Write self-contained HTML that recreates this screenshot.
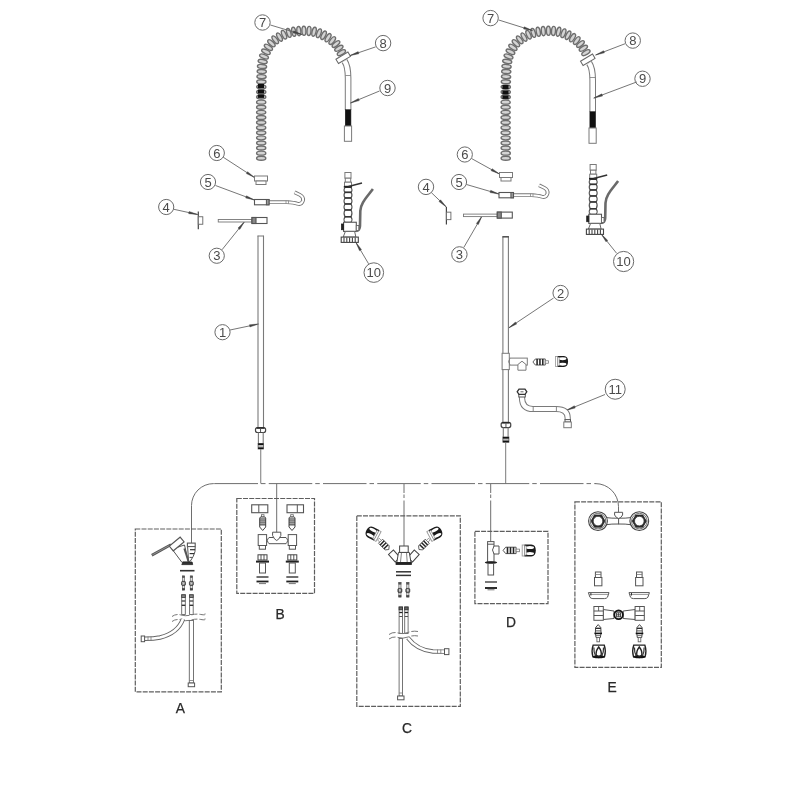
<!DOCTYPE html>
<html><head><meta charset="utf-8"><style>
html,body{margin:0;padding:0;background:#fff;}
svg{display:block;filter:grayscale(1);}
text{font-family:"Liberation Sans",sans-serif;}
</style></head><body>
<svg width="800" height="800" viewBox="0 0 800 800">
<rect width="800" height="800" fill="#fff"/>
<ellipse cx="341.42" cy="52.69" rx="2.0" ry="4.6" transform="rotate(-120.24 341.42 52.69)" stroke="#6e6e6e" stroke-width="1.4" fill="#d4d4d4"/>
<ellipse cx="338.85" cy="48.29" rx="2.0" ry="4.6" transform="rotate(-120.41 338.85 48.29)" stroke="#6e6e6e" stroke-width="1.4" fill="#d4d4d4"/>
<ellipse cx="335.98" cy="44.08" rx="2.0" ry="4.6" transform="rotate(-129.81 335.98 44.08)" stroke="#6e6e6e" stroke-width="1.4" fill="#d4d4d4"/>
<ellipse cx="332.26" cy="40.6" rx="2.0" ry="4.6" transform="rotate(-142.34 332.26 40.6)" stroke="#6e6e6e" stroke-width="1.4" fill="#d4d4d4"/>
<ellipse cx="328.06" cy="37.72" rx="2.0" ry="4.6" transform="rotate(-148.82 328.06 37.72)" stroke="#6e6e6e" stroke-width="1.4" fill="#d4d4d4"/>
<ellipse cx="323.58" cy="35.28" rx="2.0" ry="4.6" transform="rotate(-153.78 323.58 35.28)" stroke="#6e6e6e" stroke-width="1.4" fill="#d4d4d4"/>
<ellipse cx="318.91" cy="33.24" rx="2.0" ry="4.6" transform="rotate(-159.26 318.91 33.24)" stroke="#6e6e6e" stroke-width="1.4" fill="#d4d4d4"/>
<ellipse cx="314.04" cy="31.73" rx="2.0" ry="4.6" transform="rotate(-166.93 314.04 31.73)" stroke="#6e6e6e" stroke-width="1.4" fill="#d4d4d4"/>
<ellipse cx="309.01" cy="30.95" rx="2.0" ry="4.6" transform="rotate(-175.45 309.01 30.95)" stroke="#6e6e6e" stroke-width="1.4" fill="#d4d4d4"/>
<ellipse cx="303.91" cy="30.8" rx="2.0" ry="4.6" transform="rotate(178.54 303.91 30.8)" stroke="#6e6e6e" stroke-width="1.4" fill="#d4d4d4"/>
<ellipse cx="298.82" cy="31.1" rx="2.0" ry="4.6" transform="rotate(174.93 298.82 31.1)" stroke="#6e6e6e" stroke-width="1.4" fill="#d4d4d4"/>
<ellipse cx="293.77" cy="31.76" rx="2.0" ry="4.6" transform="rotate(170.12 293.77 31.76)" stroke="#6e6e6e" stroke-width="1.4" fill="#d4d4d4"/>
<ellipse cx="288.8" cy="32.91" rx="2.0" ry="4.6" transform="rotate(162.97 288.8 32.91)" stroke="#6e6e6e" stroke-width="1.4" fill="#d4d4d4"/>
<ellipse cx="284.03" cy="34.71" rx="2.0" ry="4.6" transform="rotate(155.84 284.03 34.71)" stroke="#6e6e6e" stroke-width="1.4" fill="#d4d4d4"/>
<ellipse cx="279.5" cy="37.04" rx="2.0" ry="4.6" transform="rotate(150.25 279.5 37.04)" stroke="#6e6e6e" stroke-width="1.4" fill="#d4d4d4"/>
<ellipse cx="275.23" cy="39.83" rx="2.0" ry="4.6" transform="rotate(143.2 275.23 39.83)" stroke="#6e6e6e" stroke-width="1.4" fill="#d4d4d4"/>
<ellipse cx="271.44" cy="43.23" rx="2.0" ry="4.6" transform="rotate(132.66 271.44 43.23)" stroke="#6e6e6e" stroke-width="1.4" fill="#d4d4d4"/>
<ellipse cx="268.41" cy="47.32" rx="2.0" ry="4.6" transform="rotate(121.97 268.41 47.32)" stroke="#6e6e6e" stroke-width="1.4" fill="#d4d4d4"/>
<ellipse cx="265.96" cy="51.79" rx="2.0" ry="4.6" transform="rotate(115.29 265.96 51.79)" stroke="#6e6e6e" stroke-width="1.4" fill="#d4d4d4"/>
<ellipse cx="264.02" cy="56.5" rx="2.0" ry="4.6" transform="rotate(109.11 264.02 56.5)" stroke="#6e6e6e" stroke-width="1.4" fill="#d4d4d4"/>
<ellipse cx="262.69" cy="61.42" rx="2.0" ry="4.6" transform="rotate(100.7 262.69 61.42)" stroke="#6e6e6e" stroke-width="1.4" fill="#d4d4d4"/>
<ellipse cx="262.03" cy="66.48" rx="2.0" ry="4.6" transform="rotate(94.65 262.03 66.48)" stroke="#6e6e6e" stroke-width="1.4" fill="#d4d4d4"/>
<ellipse cx="261.75" cy="71.57" rx="2.0" ry="4.6" transform="rotate(92.44 261.75 71.57)" stroke="#6e6e6e" stroke-width="1.4" fill="#d4d4d4"/>
<ellipse cx="261.53" cy="76.66" rx="2.0" ry="4.6" transform="rotate(92.36 261.53 76.66)" stroke="#6e6e6e" stroke-width="1.4" fill="#d4d4d4"/>
<ellipse cx="261.37" cy="81.76" rx="2.0" ry="4.6" transform="rotate(91.24 261.37 81.76)" stroke="#6e6e6e" stroke-width="1.4" fill="#d4d4d4"/>
<ellipse cx="261.28" cy="86.86" rx="2.0" ry="4.6" transform="rotate(90.67 261.28 86.86)" stroke="#6e6e6e" stroke-width="1.4" fill="#d4d4d4"/>
<ellipse cx="261.24" cy="91.96" rx="2.0" ry="4.6" transform="rotate(90.37 261.24 91.96)" stroke="#6e6e6e" stroke-width="1.4" fill="#d4d4d4"/>
<ellipse cx="261.21" cy="97.06" rx="2.0" ry="4.6" transform="rotate(90.29 261.21 97.06)" stroke="#6e6e6e" stroke-width="1.4" fill="#d4d4d4"/>
<ellipse cx="261.19" cy="102.16" rx="2.0" ry="4.6" transform="rotate(90.23 261.19 102.16)" stroke="#6e6e6e" stroke-width="1.4" fill="#d4d4d4"/>
<ellipse cx="261.18" cy="107.26" rx="2.0" ry="4.6" transform="rotate(90.11 261.18 107.26)" stroke="#6e6e6e" stroke-width="1.4" fill="#d4d4d4"/>
<ellipse cx="261.17" cy="112.36" rx="2.0" ry="4.6" transform="rotate(90.04 261.17 112.36)" stroke="#6e6e6e" stroke-width="1.4" fill="#d4d4d4"/>
<ellipse cx="261.17" cy="117.46" rx="2.0" ry="4.6" transform="rotate(90 261.17 117.46)" stroke="#6e6e6e" stroke-width="1.4" fill="#d4d4d4"/>
<ellipse cx="261.17" cy="122.56" rx="2.0" ry="4.6" transform="rotate(89.99 261.17 122.56)" stroke="#6e6e6e" stroke-width="1.4" fill="#d4d4d4"/>
<ellipse cx="261.17" cy="127.66" rx="2.0" ry="4.6" transform="rotate(89.97 261.17 127.66)" stroke="#6e6e6e" stroke-width="1.4" fill="#d4d4d4"/>
<ellipse cx="261.18" cy="132.76" rx="2.0" ry="4.6" transform="rotate(89.96 261.18 132.76)" stroke="#6e6e6e" stroke-width="1.4" fill="#d4d4d4"/>
<ellipse cx="261.18" cy="137.86" rx="2.0" ry="4.6" transform="rotate(89.95 261.18 137.86)" stroke="#6e6e6e" stroke-width="1.4" fill="#d4d4d4"/>
<ellipse cx="261.19" cy="142.96" rx="2.0" ry="4.6" transform="rotate(89.94 261.19 142.96)" stroke="#6e6e6e" stroke-width="1.4" fill="#d4d4d4"/>
<ellipse cx="261.19" cy="148.06" rx="2.0" ry="4.6" transform="rotate(89.94 261.19 148.06)" stroke="#6e6e6e" stroke-width="1.4" fill="#d4d4d4"/>
<ellipse cx="261.2" cy="153.16" rx="2.0" ry="4.6" transform="rotate(89.94 261.2 153.16)" stroke="#6e6e6e" stroke-width="1.4" fill="#d4d4d4"/>
<ellipse cx="261.2" cy="158.26" rx="2.0" ry="4.6" transform="rotate(89.96 261.2 158.26)" stroke="#6e6e6e" stroke-width="1.4" fill="#d4d4d4"/>
<rect x="257.9" y="84" width="6.2" height="4.1" fill="#111"/>
<rect x="257.9" y="89.6" width="6.2" height="3.8" fill="#111"/>
<rect x="257.9" y="94.5" width="6.2" height="3.4" fill="#111"/>
<ellipse cx="585.92" cy="52.69" rx="2.0" ry="4.6" transform="rotate(-120.24 585.92 52.69)" stroke="#6e6e6e" stroke-width="1.4" fill="#d4d4d4"/>
<ellipse cx="583.35" cy="48.29" rx="2.0" ry="4.6" transform="rotate(-120.41 583.35 48.29)" stroke="#6e6e6e" stroke-width="1.4" fill="#d4d4d4"/>
<ellipse cx="580.48" cy="44.08" rx="2.0" ry="4.6" transform="rotate(-129.81 580.48 44.08)" stroke="#6e6e6e" stroke-width="1.4" fill="#d4d4d4"/>
<ellipse cx="576.76" cy="40.6" rx="2.0" ry="4.6" transform="rotate(-142.34 576.76 40.6)" stroke="#6e6e6e" stroke-width="1.4" fill="#d4d4d4"/>
<ellipse cx="572.56" cy="37.72" rx="2.0" ry="4.6" transform="rotate(-148.82 572.56 37.72)" stroke="#6e6e6e" stroke-width="1.4" fill="#d4d4d4"/>
<ellipse cx="568.08" cy="35.28" rx="2.0" ry="4.6" transform="rotate(-153.78 568.08 35.28)" stroke="#6e6e6e" stroke-width="1.4" fill="#d4d4d4"/>
<ellipse cx="563.41" cy="33.24" rx="2.0" ry="4.6" transform="rotate(-159.26 563.41 33.24)" stroke="#6e6e6e" stroke-width="1.4" fill="#d4d4d4"/>
<ellipse cx="558.54" cy="31.73" rx="2.0" ry="4.6" transform="rotate(-166.93 558.54 31.73)" stroke="#6e6e6e" stroke-width="1.4" fill="#d4d4d4"/>
<ellipse cx="553.51" cy="30.95" rx="2.0" ry="4.6" transform="rotate(-175.45 553.51 30.95)" stroke="#6e6e6e" stroke-width="1.4" fill="#d4d4d4"/>
<ellipse cx="548.41" cy="30.8" rx="2.0" ry="4.6" transform="rotate(178.54 548.41 30.8)" stroke="#6e6e6e" stroke-width="1.4" fill="#d4d4d4"/>
<ellipse cx="543.32" cy="31.1" rx="2.0" ry="4.6" transform="rotate(174.93 543.32 31.1)" stroke="#6e6e6e" stroke-width="1.4" fill="#d4d4d4"/>
<ellipse cx="538.27" cy="31.76" rx="2.0" ry="4.6" transform="rotate(170.12 538.27 31.76)" stroke="#6e6e6e" stroke-width="1.4" fill="#d4d4d4"/>
<ellipse cx="533.3" cy="32.91" rx="2.0" ry="4.6" transform="rotate(162.97 533.3 32.91)" stroke="#6e6e6e" stroke-width="1.4" fill="#d4d4d4"/>
<ellipse cx="528.53" cy="34.71" rx="2.0" ry="4.6" transform="rotate(155.84 528.53 34.71)" stroke="#6e6e6e" stroke-width="1.4" fill="#d4d4d4"/>
<ellipse cx="524" cy="37.04" rx="2.0" ry="4.6" transform="rotate(150.25 524 37.04)" stroke="#6e6e6e" stroke-width="1.4" fill="#d4d4d4"/>
<ellipse cx="519.73" cy="39.83" rx="2.0" ry="4.6" transform="rotate(143.2 519.73 39.83)" stroke="#6e6e6e" stroke-width="1.4" fill="#d4d4d4"/>
<ellipse cx="515.94" cy="43.23" rx="2.0" ry="4.6" transform="rotate(132.66 515.94 43.23)" stroke="#6e6e6e" stroke-width="1.4" fill="#d4d4d4"/>
<ellipse cx="512.91" cy="47.32" rx="2.0" ry="4.6" transform="rotate(121.97 512.91 47.32)" stroke="#6e6e6e" stroke-width="1.4" fill="#d4d4d4"/>
<ellipse cx="510.46" cy="51.79" rx="2.0" ry="4.6" transform="rotate(115.29 510.46 51.79)" stroke="#6e6e6e" stroke-width="1.4" fill="#d4d4d4"/>
<ellipse cx="508.52" cy="56.5" rx="2.0" ry="4.6" transform="rotate(109.11 508.52 56.5)" stroke="#6e6e6e" stroke-width="1.4" fill="#d4d4d4"/>
<ellipse cx="507.19" cy="61.42" rx="2.0" ry="4.6" transform="rotate(100.7 507.19 61.42)" stroke="#6e6e6e" stroke-width="1.4" fill="#d4d4d4"/>
<ellipse cx="506.53" cy="66.48" rx="2.0" ry="4.6" transform="rotate(94.65 506.53 66.48)" stroke="#6e6e6e" stroke-width="1.4" fill="#d4d4d4"/>
<ellipse cx="506.25" cy="71.57" rx="2.0" ry="4.6" transform="rotate(92.44 506.25 71.57)" stroke="#6e6e6e" stroke-width="1.4" fill="#d4d4d4"/>
<ellipse cx="506.03" cy="76.66" rx="2.0" ry="4.6" transform="rotate(92.36 506.03 76.66)" stroke="#6e6e6e" stroke-width="1.4" fill="#d4d4d4"/>
<ellipse cx="505.87" cy="81.76" rx="2.0" ry="4.6" transform="rotate(91.24 505.87 81.76)" stroke="#6e6e6e" stroke-width="1.4" fill="#d4d4d4"/>
<ellipse cx="505.78" cy="86.86" rx="2.0" ry="4.6" transform="rotate(90.67 505.78 86.86)" stroke="#6e6e6e" stroke-width="1.4" fill="#d4d4d4"/>
<ellipse cx="505.74" cy="91.96" rx="2.0" ry="4.6" transform="rotate(90.37 505.74 91.96)" stroke="#6e6e6e" stroke-width="1.4" fill="#d4d4d4"/>
<ellipse cx="505.71" cy="97.06" rx="2.0" ry="4.6" transform="rotate(90.29 505.71 97.06)" stroke="#6e6e6e" stroke-width="1.4" fill="#d4d4d4"/>
<ellipse cx="505.69" cy="102.16" rx="2.0" ry="4.6" transform="rotate(90.23 505.69 102.16)" stroke="#6e6e6e" stroke-width="1.4" fill="#d4d4d4"/>
<ellipse cx="505.68" cy="107.26" rx="2.0" ry="4.6" transform="rotate(90.11 505.68 107.26)" stroke="#6e6e6e" stroke-width="1.4" fill="#d4d4d4"/>
<ellipse cx="505.67" cy="112.36" rx="2.0" ry="4.6" transform="rotate(90.04 505.67 112.36)" stroke="#6e6e6e" stroke-width="1.4" fill="#d4d4d4"/>
<ellipse cx="505.67" cy="117.46" rx="2.0" ry="4.6" transform="rotate(90 505.67 117.46)" stroke="#6e6e6e" stroke-width="1.4" fill="#d4d4d4"/>
<ellipse cx="505.67" cy="122.56" rx="2.0" ry="4.6" transform="rotate(89.99 505.67 122.56)" stroke="#6e6e6e" stroke-width="1.4" fill="#d4d4d4"/>
<ellipse cx="505.67" cy="127.66" rx="2.0" ry="4.6" transform="rotate(89.97 505.67 127.66)" stroke="#6e6e6e" stroke-width="1.4" fill="#d4d4d4"/>
<ellipse cx="505.68" cy="132.76" rx="2.0" ry="4.6" transform="rotate(89.96 505.68 132.76)" stroke="#6e6e6e" stroke-width="1.4" fill="#d4d4d4"/>
<ellipse cx="505.68" cy="137.86" rx="2.0" ry="4.6" transform="rotate(89.95 505.68 137.86)" stroke="#6e6e6e" stroke-width="1.4" fill="#d4d4d4"/>
<ellipse cx="505.69" cy="142.96" rx="2.0" ry="4.6" transform="rotate(89.94 505.69 142.96)" stroke="#6e6e6e" stroke-width="1.4" fill="#d4d4d4"/>
<ellipse cx="505.69" cy="148.06" rx="2.0" ry="4.6" transform="rotate(89.94 505.69 148.06)" stroke="#6e6e6e" stroke-width="1.4" fill="#d4d4d4"/>
<ellipse cx="505.7" cy="153.16" rx="2.0" ry="4.6" transform="rotate(89.94 505.7 153.16)" stroke="#6e6e6e" stroke-width="1.4" fill="#d4d4d4"/>
<ellipse cx="505.7" cy="158.26" rx="2.0" ry="4.6" transform="rotate(89.96 505.7 158.26)" stroke="#6e6e6e" stroke-width="1.4" fill="#d4d4d4"/>
<rect x="502.4" y="85" width="6.2" height="4.1" fill="#111"/>
<rect x="502.4" y="90.6" width="6.2" height="3.8" fill="#111"/>
<rect x="502.4" y="95.5" width="6.2" height="3.4" fill="#111"/>
<path d="M344.5 61 Q348 66 348.1 78 L348.1 110" stroke="#7a7a7a" stroke-width="6.6" fill="none" stroke-linecap="butt"/>
<path d="M344.5 61 Q348 66 348.1 78 L348.1 110" stroke="#fff" stroke-width="4.6" fill="none" stroke-linecap="butt"/>
<line x1="345.3" y1="75.5" x2="350.9" y2="75.5" stroke="#7a7a7a" stroke-width="0.8" />
<rect x="345.3" y="109.75" width="5.6" height="16.15" stroke="#111" stroke-width="0.6" fill="#111" />
<rect x="344.4" y="126" width="7.2" height="15.3" stroke="#7a7a7a" stroke-width="1" fill="#fff" />
<rect x="-7" y="-2.5" width="14" height="5" transform="translate(343.2 57.8) rotate(-31)" stroke="#666" stroke-width="1" fill="#fff"/>
<path d="M589.1 63 Q592.6 68 592.7 80 L592.7 112" stroke="#7a7a7a" stroke-width="6.6" fill="none" stroke-linecap="butt"/>
<path d="M589.1 63 Q592.6 68 592.7 80 L592.7 112" stroke="#fff" stroke-width="4.6" fill="none" stroke-linecap="butt"/>
<line x1="589.9" y1="77.5" x2="595.5" y2="77.5" stroke="#7a7a7a" stroke-width="0.8" />
<rect x="589.9" y="111.75" width="5.6" height="16.15" stroke="#111" stroke-width="0.6" fill="#111" />
<rect x="589" y="128" width="7.2" height="15.3" stroke="#7a7a7a" stroke-width="1" fill="#fff" />
<rect x="-7" y="-2.5" width="14" height="5" transform="translate(587.8 59.8) rotate(-31)" stroke="#666" stroke-width="1" fill="#fff"/>
<circle cx="262.5" cy="22.5" r="7.7" stroke="#6a6a6a" stroke-width="1" fill="none"/>
<text x="262.5" y="27.18" font-size="13" text-anchor="middle" fill="#4a4a4a" font-family="Liberation Sans, sans-serif">7</text>
<line x1="270.4" y1="25" x2="302" y2="34.5" stroke="#666" stroke-width="0.9" />
<path d="M302 34.5 L293.05 33.01 L293.71 30.81 Z" fill="#444" stroke="#444" stroke-width="0.4"/>
<circle cx="383.1" cy="43.1" r="7.7" stroke="#6a6a6a" stroke-width="1" fill="none"/>
<text x="383.1" y="47.78" font-size="13" text-anchor="middle" fill="#4a4a4a" font-family="Liberation Sans, sans-serif">8</text>
<line x1="375.6" y1="46.9" x2="350" y2="55.6" stroke="#666" stroke-width="0.9" />
<path d="M350 55.6 L358.15 51.62 L358.89 53.79 Z" fill="#444" stroke="#444" stroke-width="0.4"/>
<circle cx="387.5" cy="88" r="7.7" stroke="#6a6a6a" stroke-width="1" fill="none"/>
<text x="387.5" y="92.68" font-size="13" text-anchor="middle" fill="#4a4a4a" font-family="Liberation Sans, sans-serif">9</text>
<line x1="379.5" y1="91" x2="350.5" y2="103" stroke="#666" stroke-width="0.9" />
<path d="M350.5 103 L358.38 98.5 L359.26 100.62 Z" fill="#444" stroke="#444" stroke-width="0.4"/>
<circle cx="216.8" cy="153" r="7.6" stroke="#6a6a6a" stroke-width="1" fill="none"/>
<text x="216.8" y="157.68" font-size="13" text-anchor="middle" fill="#4a4a4a" font-family="Liberation Sans, sans-serif">6</text>
<line x1="223.2" y1="157.2" x2="254.5" y2="177.5" stroke="#666" stroke-width="0.9" />
<path d="M254.5 177.5 L246.32 173.57 L247.57 171.64 Z" fill="#444" stroke="#444" stroke-width="0.4"/>
<circle cx="208" cy="182" r="7.6" stroke="#6a6a6a" stroke-width="1" fill="none"/>
<text x="208" y="186.68" font-size="13" text-anchor="middle" fill="#4a4a4a" font-family="Liberation Sans, sans-serif">5</text>
<line x1="215.5" y1="185.5" x2="254.5" y2="200" stroke="#666" stroke-width="0.9" />
<path d="M254.5 200 L245.66 197.94 L246.46 195.79 Z" fill="#444" stroke="#444" stroke-width="0.4"/>
<circle cx="166.2" cy="207" r="7.6" stroke="#6a6a6a" stroke-width="1" fill="none"/>
<text x="166.2" y="211.68" font-size="13" text-anchor="middle" fill="#4a4a4a" font-family="Liberation Sans, sans-serif">4</text>
<line x1="173.7" y1="209.25" x2="197.7" y2="214.5" stroke="#666" stroke-width="0.9" />
<path d="M197.7 214.5 L188.66 213.7 L189.15 211.45 Z" fill="#444" stroke="#444" stroke-width="0.4"/>
<circle cx="216.75" cy="255.75" r="7.6" stroke="#6a6a6a" stroke-width="1" fill="none"/>
<text x="216.75" y="260.43" font-size="13" text-anchor="middle" fill="#4a4a4a" font-family="Liberation Sans, sans-serif">3</text>
<line x1="222" y1="249.75" x2="244.5" y2="221.7" stroke="#666" stroke-width="0.9" />
<path d="M244.5 221.7 L239.77 229.44 L237.97 228 Z" fill="#444" stroke="#444" stroke-width="0.4"/>
<circle cx="373.8" cy="272.6" r="9.8" stroke="#6a6a6a" stroke-width="1" fill="none"/>
<text x="373.8" y="277.28" font-size="13" text-anchor="middle" fill="#4a4a4a" font-family="Liberation Sans, sans-serif">10</text>
<line x1="368.6" y1="263.8" x2="355.9" y2="242.4" stroke="#666" stroke-width="0.9" />
<path d="M355.9 242.4 L361.48 249.55 L359.5 250.73 Z" fill="#444" stroke="#444" stroke-width="0.4"/>
<circle cx="222.5" cy="332.2" r="7.6" stroke="#6a6a6a" stroke-width="1" fill="none"/>
<text x="222.5" y="336.88" font-size="13" text-anchor="middle" fill="#4a4a4a" font-family="Liberation Sans, sans-serif">1</text>
<line x1="230" y1="330" x2="258.5" y2="324" stroke="#666" stroke-width="0.9" />
<path d="M258.5 324 L249.93 326.98 L249.46 324.73 Z" fill="#444" stroke="#444" stroke-width="0.4"/>
<circle cx="490.6" cy="18.1" r="7.7" stroke="#6a6a6a" stroke-width="1" fill="none"/>
<text x="490.6" y="22.78" font-size="13" text-anchor="middle" fill="#4a4a4a" font-family="Liberation Sans, sans-serif">7</text>
<line x1="498.75" y1="20" x2="532.5" y2="30.6" stroke="#666" stroke-width="0.9" />
<path d="M532.5 30.6 L523.57 29 L524.26 26.81 Z" fill="#444" stroke="#444" stroke-width="0.4"/>
<circle cx="632.75" cy="40.6" r="7.7" stroke="#6a6a6a" stroke-width="1" fill="none"/>
<text x="632.75" y="45.28" font-size="13" text-anchor="middle" fill="#4a4a4a" font-family="Liberation Sans, sans-serif">8</text>
<line x1="625" y1="43.75" x2="595.6" y2="55" stroke="#666" stroke-width="0.9" />
<path d="M595.6 55 L603.59 50.71 L604.42 52.86 Z" fill="#444" stroke="#444" stroke-width="0.4"/>
<circle cx="642.5" cy="78.75" r="7.7" stroke="#6a6a6a" stroke-width="1" fill="none"/>
<text x="642.5" y="83.43" font-size="13" text-anchor="middle" fill="#4a4a4a" font-family="Liberation Sans, sans-serif">9</text>
<line x1="636.9" y1="81.9" x2="593.75" y2="98.1" stroke="#666" stroke-width="0.9" />
<path d="M593.75 98.1 L601.77 93.86 L602.58 96.01 Z" fill="#444" stroke="#444" stroke-width="0.4"/>
<circle cx="464.8" cy="154.5" r="7.6" stroke="#6a6a6a" stroke-width="1" fill="none"/>
<text x="464.8" y="159.18" font-size="13" text-anchor="middle" fill="#4a4a4a" font-family="Liberation Sans, sans-serif">6</text>
<line x1="471.5" y1="158.5" x2="499.5" y2="174" stroke="#666" stroke-width="0.9" />
<path d="M499.5 174 L491.07 170.65 L492.18 168.64 Z" fill="#444" stroke="#444" stroke-width="0.4"/>
<circle cx="459" cy="182" r="7.6" stroke="#6a6a6a" stroke-width="1" fill="none"/>
<text x="459" y="186.68" font-size="13" text-anchor="middle" fill="#4a4a4a" font-family="Liberation Sans, sans-serif">5</text>
<line x1="466.5" y1="184.5" x2="499" y2="194" stroke="#666" stroke-width="0.9" />
<path d="M499 194 L490.04 192.58 L490.68 190.37 Z" fill="#444" stroke="#444" stroke-width="0.4"/>
<circle cx="426" cy="186.9" r="7.7" stroke="#6a6a6a" stroke-width="1" fill="none"/>
<text x="426" y="191.58" font-size="13" text-anchor="middle" fill="#4a4a4a" font-family="Liberation Sans, sans-serif">4</text>
<line x1="431.25" y1="192.5" x2="446.25" y2="206.9" stroke="#666" stroke-width="0.9" />
<path d="M446.25 206.9 L438.96 201.5 L440.55 199.84 Z" fill="#444" stroke="#444" stroke-width="0.4"/>
<circle cx="459.4" cy="254.4" r="7.7" stroke="#6a6a6a" stroke-width="1" fill="none"/>
<text x="459.4" y="259.08" font-size="13" text-anchor="middle" fill="#4a4a4a" font-family="Liberation Sans, sans-serif">3</text>
<line x1="463.75" y1="247.5" x2="481.9" y2="216.25" stroke="#666" stroke-width="0.9" />
<path d="M481.9 216.25 L478.37 224.61 L476.39 223.46 Z" fill="#444" stroke="#444" stroke-width="0.4"/>
<circle cx="623.6" cy="261.5" r="10.1" stroke="#6a6a6a" stroke-width="1" fill="none"/>
<text x="623.6" y="266.18" font-size="13" text-anchor="middle" fill="#4a4a4a" font-family="Liberation Sans, sans-serif">10</text>
<line x1="616.6" y1="253.25" x2="601.25" y2="234.1" stroke="#666" stroke-width="0.9" />
<path d="M601.25 234.1 L607.78 240.4 L605.98 241.84 Z" fill="#444" stroke="#444" stroke-width="0.4"/>
<circle cx="560.6" cy="293" r="7.65" stroke="#6a6a6a" stroke-width="1" fill="none"/>
<text x="560.6" y="297.68" font-size="13" text-anchor="middle" fill="#4a4a4a" font-family="Liberation Sans, sans-serif">2</text>
<line x1="553.6" y1="298" x2="508.6" y2="328" stroke="#666" stroke-width="0.9" />
<path d="M508.6 328 L515.45 322.05 L516.73 323.96 Z" fill="#444" stroke="#444" stroke-width="0.4"/>
<circle cx="615.2" cy="389.25" r="10" stroke="#6a6a6a" stroke-width="1" fill="none"/>
<text x="615.2" y="393.93" font-size="13" text-anchor="middle" fill="#4a4a4a" font-family="Liberation Sans, sans-serif">11</text>
<line x1="605" y1="394.5" x2="566.5" y2="410.25" stroke="#666" stroke-width="0.9" />
<path d="M566.5 410.25 L574.39 405.78 L575.27 407.91 Z" fill="#444" stroke="#444" stroke-width="0.4"/>
<rect x="254.5" y="176" width="13" height="5" stroke="#7a7a7a" stroke-width="1" fill="#fff" />
<rect x="256" y="181" width="10" height="3.5" stroke="#7a7a7a" stroke-width="1" fill="#fff" />
<rect x="499.5" y="172.5" width="13" height="5" stroke="#7a7a7a" stroke-width="1" fill="#fff" />
<rect x="501" y="177.5" width="10" height="3.5" stroke="#7a7a7a" stroke-width="1" fill="#fff" />
<path d="M269 202.2 L287 202.2 Q294 202.6 297.5 203.8 Q301.6 205 303 200.5 Q303.7 196.9 299.9 194.9 L294.6 192.3" stroke="#777" stroke-width="3.8" fill="none" stroke-linecap="butt"/>
<path d="M269 202.2 L287 202.2 Q294 202.6 297.5 203.8 Q301.6 205 303 200.5 Q303.7 196.9 299.9 194.9 L294.6 192.3" stroke="#fff" stroke-width="1.9999999999999998" fill="none" stroke-linecap="butt"/>
<line x1="286" y1="200.5" x2="286" y2="203.9" stroke="#888" stroke-width="0.8" />
<line x1="288.5" y1="200.5" x2="288.5" y2="203.9" stroke="#888" stroke-width="0.8" />
<rect x="254.5" y="199.5" width="14.5" height="5.3" stroke="#555" stroke-width="1.1" fill="#fff" />
<rect x="266.4" y="199.5" width="2.6" height="5.3" stroke="#555" stroke-width="1" fill="#999" />
<path d="M513.5 195.2 L531.5 195.2 Q538.5 195.6 542 196.8 Q546.1 198 547.5 193.5 Q548.2 189.9 544.4 187.9 L539.1 185.3" stroke="#777" stroke-width="3.8" fill="none" stroke-linecap="butt"/>
<path d="M513.5 195.2 L531.5 195.2 Q538.5 195.6 542 196.8 Q546.1 198 547.5 193.5 Q548.2 189.9 544.4 187.9 L539.1 185.3" stroke="#fff" stroke-width="1.9999999999999998" fill="none" stroke-linecap="butt"/>
<line x1="530.5" y1="193.5" x2="530.5" y2="196.9" stroke="#888" stroke-width="0.8" />
<line x1="533" y1="193.5" x2="533" y2="196.9" stroke="#888" stroke-width="0.8" />
<rect x="499" y="192.5" width="14.5" height="5.3" stroke="#555" stroke-width="1.1" fill="#fff" />
<rect x="510.9" y="192.5" width="2.6" height="5.3" stroke="#555" stroke-width="1" fill="#999" />
<line x1="198.3" y1="211.5" x2="198.3" y2="229.2" stroke="#444" stroke-width="1.2" />
<rect x="198.3" y="216.75" width="4.5" height="7.5" stroke="#666" stroke-width="0.9" fill="#fff" />
<line x1="446.4" y1="206.9" x2="446.4" y2="224.6" stroke="#444" stroke-width="1.2" />
<rect x="446.4" y="212.15" width="4.5" height="7.5" stroke="#666" stroke-width="0.9" fill="#fff" />
<rect x="218.25" y="219.5" width="33.75" height="2.5" stroke="#777" stroke-width="0.9" fill="#fff" />
<rect x="252" y="217.5" width="15" height="6" stroke="#555" stroke-width="1.1" fill="#fff" />
<rect x="252" y="217.5" width="4" height="6" stroke="#555" stroke-width="1.1" fill="#888" />
<rect x="463.55" y="214.1" width="33.75" height="2.5" stroke="#777" stroke-width="0.9" fill="#fff" />
<rect x="497.3" y="212.1" width="15" height="6" stroke="#555" stroke-width="1.1" fill="#fff" />
<rect x="497.3" y="212.1" width="4" height="6" stroke="#555" stroke-width="1.1" fill="#888" />
<line x1="258" y1="235.8" x2="258" y2="427.6" stroke="#7a7a7a" stroke-width="1.1" />
<line x1="263.5" y1="235.8" x2="263.5" y2="427.6" stroke="#7a7a7a" stroke-width="1.1" />
<line x1="257.5" y1="236" x2="264" y2="236" stroke="#777" stroke-width="1" />
<rect x="255.5" y="427.6" width="10.1" height="4.9" rx="2" fill="#fff" stroke="#444" stroke-width="1.2"/>
<line x1="256.5" y1="428.1" x2="264.6" y2="428.1" stroke="#222" stroke-width="1.4" />
<line x1="260.55" y1="428.6" x2="260.55" y2="432" stroke="#555" stroke-width="1" />
<line x1="258.4" y1="432.5" x2="258.4" y2="443.4" stroke="#7a7a7a" stroke-width="1.1" />
<line x1="263.2" y1="432.5" x2="263.2" y2="443.4" stroke="#7a7a7a" stroke-width="1.1" />
<rect x="258.1" y="443.4" width="5.3" height="5.6" stroke="#555" stroke-width="0.8" fill="#bbb" />
<line x1="258.1" y1="444.2" x2="263.4" y2="444.2" stroke="#111" stroke-width="1.6" />
<line x1="258.1" y1="448.2" x2="263.4" y2="448.2" stroke="#111" stroke-width="1.6" />
<line x1="260.75" y1="449" x2="260.75" y2="483.6" stroke="#7a7a7a" stroke-width="1" />
<line x1="502.9" y1="236.5" x2="502.9" y2="422.4" stroke="#7a7a7a" stroke-width="1.1" />
<line x1="508.4" y1="236.5" x2="508.4" y2="422.4" stroke="#7a7a7a" stroke-width="1.1" />
<line x1="502.4" y1="236.8" x2="508.9" y2="236.8" stroke="#555" stroke-width="1.6" />
<rect x="501.15" y="422.4" width="9.6" height="5.2" rx="2" fill="#fff" stroke="#444" stroke-width="1.2"/>
<line x1="502.15" y1="422.9" x2="509.75" y2="422.9" stroke="#222" stroke-width="1.4" />
<line x1="505.95" y1="423.4" x2="505.95" y2="427.1" stroke="#555" stroke-width="1" />
<line x1="503.3" y1="427.6" x2="503.3" y2="437" stroke="#7a7a7a" stroke-width="1.1" />
<line x1="508.1" y1="427.6" x2="508.1" y2="437" stroke="#7a7a7a" stroke-width="1.1" />
<rect x="502.9" y="437" width="6" height="5.25" stroke="#555" stroke-width="0.8" fill="#bbb" />
<line x1="502.9" y1="437.8" x2="508.9" y2="437.8" stroke="#111" stroke-width="1.6" />
<line x1="502.9" y1="441.45" x2="508.9" y2="441.45" stroke="#111" stroke-width="1.6" />
<line x1="505.7" y1="442.25" x2="505.7" y2="483.6" stroke="#7a7a7a" stroke-width="1" />
<rect x="509.3" y="358.1" width="18" height="7" stroke="#7a7a7a" stroke-width="1" fill="#fff" />
<rect x="502.1" y="353.3" width="7.2" height="16.3" stroke="#7a7a7a" stroke-width="1" fill="#fff" />
<path d="M517.9 370.2 L517.9 364.5 L522 361.2 L526 364.5 L526 370.2 Z" stroke="#7a7a7a" stroke-width="1" fill="#fff" />
<path d="M510 358.5 Q507 361.6 510 364.7" stroke="#7a7a7a" stroke-width="0.9" fill="none" />
<path d="M522 396 L522 398 Q522.2 409 533 409 L556 409 Q567.7 409 567.7 418 L567.7 420" stroke="#7a7a7a" stroke-width="6.2" fill="none" stroke-linecap="butt"/>
<path d="M522 396 L522 398 Q522.2 409 533 409 L556 409 Q567.7 409 567.7 418 L567.7 420" stroke="#fff" stroke-width="4.2" fill="none" stroke-linecap="butt"/>
<line x1="533.2" y1="406" x2="533.2" y2="412" stroke="#7a7a7a" stroke-width="0.9" />
<line x1="556.4" y1="406" x2="556.4" y2="412" stroke="#7a7a7a" stroke-width="0.9" />
<rect x="518.8" y="394.2" width="6.5" height="2.8" stroke="#555" stroke-width="1" fill="#fff" />
<path d="M519 389.2 L525 389.2 L526.8 391.8 L525 394.4 L519 394.4 L517.2 391.8 Z" fill="#fff" stroke="#333" stroke-width="1.3"/>
<line x1="520.5" y1="391.8" x2="523.5" y2="391.8" stroke="#666" stroke-width="1" />
<rect x="565" y="419.6" width="5.5" height="2.4" stroke="#555" stroke-width="1" fill="#fff" />
<rect x="563.8" y="422" width="7.5" height="5.7" stroke="#7a7a7a" stroke-width="1" fill="#fff" />
<path d="M372.9 189 C367 197 360.5 203 360.3 211 L360 226 Q359.8 230.5 356.5 231" stroke="#6a6a6a" stroke-width="2.6" fill="none" stroke-linecap="butt"/>
<path d="M372.9 189 C367 197 360.5 203 360.3 211 L360 226 Q359.8 230.5 356.5 231" stroke="#fff" stroke-width="0.0" fill="none" stroke-linecap="butt"/>
<rect x="344.9" y="172.5" width="6.1" height="5.7" stroke="#7a7a7a" stroke-width="1" fill="#fff" />
<rect x="345.3" y="178.2" width="5.4" height="4" stroke="#7a7a7a" stroke-width="1" fill="#fff" />
<rect x="344.5" y="182.2" width="7" height="4.1" stroke="#7a7a7a" stroke-width="1" fill="#fff" />
<path d="M345 187.5 Q343 189.95 345 192.4 L351 192.4 Q353 189.95 351 187.5 Z" stroke="#555" stroke-width="1.1" fill="#fff" />
<path d="M345 192.4 Q343 195.2 345 198 L351 198 Q353 195.2 351 192.4 Z" stroke="#555" stroke-width="1.1" fill="#fff" />
<path d="M345 198 Q343 201 345 204 L351 204 Q353 201 351 198 Z" stroke="#555" stroke-width="1.1" fill="#fff" />
<path d="M345 204 Q343 207 345 210 L351 210 Q353 207 351 204 Z" stroke="#555" stroke-width="1.1" fill="#fff" />
<path d="M345 210 Q343 213.4 345 216.8 L351 216.8 Q353 213.4 351 210 Z" stroke="#555" stroke-width="1.1" fill="#fff" />
<path d="M345 216.8 Q343 219.5 345 222.2 L351 222.2 Q353 219.5 351 216.8 Z" stroke="#555" stroke-width="1.1" fill="#fff" />
<line x1="344.6" y1="192.4" x2="351.4" y2="192.4" stroke="#333" stroke-width="1.5" />
<line x1="344.6" y1="198" x2="351.4" y2="198" stroke="#333" stroke-width="1.5" />
<line x1="344.6" y1="204" x2="351.4" y2="204" stroke="#333" stroke-width="1.5" />
<line x1="344.6" y1="210" x2="351.4" y2="210" stroke="#333" stroke-width="1.5" />
<line x1="344.6" y1="216.8" x2="351.4" y2="216.8" stroke="#333" stroke-width="1.5" />
<line x1="343.8" y1="186.8" x2="352" y2="186.8" stroke="#222" stroke-width="1.8" />
<line x1="348.5" y1="186.5" x2="362" y2="183" stroke="#333" stroke-width="1.4" />
<rect x="343.6" y="222.25" width="12.7" height="9.15" stroke="#555" stroke-width="1.1" fill="#fff" />
<rect x="341.5" y="224" width="2.1" height="5.7" stroke="#222" stroke-width="0.8" fill="#222" />
<rect x="356.3" y="225.5" width="2.5" height="5" stroke="#666" stroke-width="0.9" fill="#fff" />
<path d="M345.4 231.4 L354.6 231.4 L355.9 237.1 L343.2 237.1 Z" stroke="#666" stroke-width="1" fill="#fff" />
<rect x="341.2" y="237.1" width="17.1" height="5.3" stroke="#444" stroke-width="1.1" fill="#fff" />
<line x1="344" y1="237.6" x2="344" y2="241.9" stroke="#444" stroke-width="1.1" />
<line x1="346.8" y1="237.6" x2="346.8" y2="241.9" stroke="#444" stroke-width="1.1" />
<line x1="349.6" y1="237.6" x2="349.6" y2="241.9" stroke="#444" stroke-width="1.1" />
<line x1="352.4" y1="237.6" x2="352.4" y2="241.9" stroke="#444" stroke-width="1.1" />
<line x1="355.2" y1="237.6" x2="355.2" y2="241.9" stroke="#444" stroke-width="1.1" />
<path d="M618.1 181 C612.2 189 605.7 195 605.5 203 L605.2 218 Q605 222.5 601.7 223" stroke="#6a6a6a" stroke-width="2.6" fill="none" stroke-linecap="butt"/>
<path d="M618.1 181 C612.2 189 605.7 195 605.5 203 L605.2 218 Q605 222.5 601.7 223" stroke="#fff" stroke-width="0.0" fill="none" stroke-linecap="butt"/>
<rect x="590.1" y="164.5" width="6.1" height="5.7" stroke="#7a7a7a" stroke-width="1" fill="#fff" />
<rect x="590.5" y="170.2" width="5.4" height="4" stroke="#7a7a7a" stroke-width="1" fill="#fff" />
<rect x="589.7" y="174.2" width="7" height="4.1" stroke="#7a7a7a" stroke-width="1" fill="#fff" />
<path d="M590.2 179.5 Q588.2 181.95 590.2 184.4 L596.2 184.4 Q598.2 181.95 596.2 179.5 Z" stroke="#555" stroke-width="1.1" fill="#fff" />
<path d="M590.2 184.4 Q588.2 187.2 590.2 190 L596.2 190 Q598.2 187.2 596.2 184.4 Z" stroke="#555" stroke-width="1.1" fill="#fff" />
<path d="M590.2 190 Q588.2 193 590.2 196 L596.2 196 Q598.2 193 596.2 190 Z" stroke="#555" stroke-width="1.1" fill="#fff" />
<path d="M590.2 196 Q588.2 199 590.2 202 L596.2 202 Q598.2 199 596.2 196 Z" stroke="#555" stroke-width="1.1" fill="#fff" />
<path d="M590.2 202 Q588.2 205.4 590.2 208.8 L596.2 208.8 Q598.2 205.4 596.2 202 Z" stroke="#555" stroke-width="1.1" fill="#fff" />
<path d="M590.2 208.8 Q588.2 211.5 590.2 214.2 L596.2 214.2 Q598.2 211.5 596.2 208.8 Z" stroke="#555" stroke-width="1.1" fill="#fff" />
<line x1="589.8" y1="184.4" x2="596.6" y2="184.4" stroke="#333" stroke-width="1.5" />
<line x1="589.8" y1="190" x2="596.6" y2="190" stroke="#333" stroke-width="1.5" />
<line x1="589.8" y1="196" x2="596.6" y2="196" stroke="#333" stroke-width="1.5" />
<line x1="589.8" y1="202" x2="596.6" y2="202" stroke="#333" stroke-width="1.5" />
<line x1="589.8" y1="208.8" x2="596.6" y2="208.8" stroke="#333" stroke-width="1.5" />
<line x1="589" y1="178.8" x2="597.2" y2="178.8" stroke="#222" stroke-width="1.8" />
<line x1="593.7" y1="178.5" x2="607.2" y2="175" stroke="#333" stroke-width="1.4" />
<rect x="588.8" y="214.25" width="12.7" height="9.15" stroke="#555" stroke-width="1.1" fill="#fff" />
<rect x="586.7" y="216" width="2.1" height="5.7" stroke="#222" stroke-width="0.8" fill="#222" />
<rect x="601.5" y="217.5" width="2.5" height="5" stroke="#666" stroke-width="0.9" fill="#fff" />
<path d="M590.6 223.4 L599.8 223.4 L601.1 229.1 L588.4 229.1 Z" stroke="#666" stroke-width="1" fill="#fff" />
<rect x="586.4" y="229.1" width="17.1" height="5.3" stroke="#444" stroke-width="1.1" fill="#fff" />
<line x1="589.2" y1="229.6" x2="589.2" y2="233.9" stroke="#444" stroke-width="1.1" />
<line x1="592" y1="229.6" x2="592" y2="233.9" stroke="#444" stroke-width="1.1" />
<line x1="594.8" y1="229.6" x2="594.8" y2="233.9" stroke="#444" stroke-width="1.1" />
<line x1="597.6" y1="229.6" x2="597.6" y2="233.9" stroke="#444" stroke-width="1.1" />
<line x1="600.4" y1="229.6" x2="600.4" y2="233.9" stroke="#444" stroke-width="1.1" />
<path d="M191.5 543.2 L191.5 505.5 A22 22 0 0 1 213.5 483.6 L214.5 483.6" stroke="#6e6e6e" stroke-width="1" fill="none" />
<line x1="214.5" y1="483.6" x2="596" y2="483.6" stroke="#6e6e6e" stroke-width="1" stroke-dasharray="43.5 3 4.5 3.25"/>
<path d="M595.5 483.6 A23 23 0 0 1 618.5 506.6 L618.5 512.2" stroke="#6e6e6e" stroke-width="1" fill="none" />
<line x1="276.7" y1="483.6" x2="276.7" y2="532.5" stroke="#6e6e6e" stroke-width="1" />
<line x1="404" y1="484" x2="404" y2="493" stroke="#6e6e6e" stroke-width="1" />
<line x1="404" y1="494.5" x2="404" y2="498" stroke="#6e6e6e" stroke-width="1" />
<line x1="404" y1="500.5" x2="404" y2="546" stroke="#6e6e6e" stroke-width="1" />
<line x1="490.7" y1="484" x2="490.7" y2="493" stroke="#6e6e6e" stroke-width="1" />
<line x1="490.7" y1="494.5" x2="490.7" y2="498" stroke="#6e6e6e" stroke-width="1" />
<line x1="490.7" y1="500.5" x2="490.7" y2="542" stroke="#6e6e6e" stroke-width="1" />
<rect x="135.3" y="529" width="86" height="162.8" stroke="#5e5e5e" stroke-width="1.2" fill="none" stroke-dasharray="5 1.2"/>
<rect x="236.8" y="498.5" width="77.7" height="94.8" stroke="#5e5e5e" stroke-width="1.2" fill="none" stroke-dasharray="5 1.2"/>
<rect x="356.8" y="515.9" width="103.5" height="190.5" stroke="#5e5e5e" stroke-width="1.2" fill="none" stroke-dasharray="5 1.2"/>
<rect x="474.9" y="531.4" width="73.1" height="72.2" stroke="#5e5e5e" stroke-width="1.2" fill="none" stroke-dasharray="5 1.2"/>
<rect x="574.9" y="501.8" width="86.4" height="165.5" stroke="#5e5e5e" stroke-width="1.2" fill="none" stroke-dasharray="5 1.2"/>
<text x="180.3" y="712.6" font-size="13.8" text-anchor="middle" fill="#2a2a2a" stroke="#2a2a2a" stroke-width="0.25" font-family="Liberation Sans, sans-serif">A</text>
<text x="280.2" y="618.7" font-size="13.8" text-anchor="middle" fill="#2a2a2a" stroke="#2a2a2a" stroke-width="0.25" font-family="Liberation Sans, sans-serif">B</text>
<text x="407" y="732.9" font-size="13.8" text-anchor="middle" fill="#2a2a2a" stroke="#2a2a2a" stroke-width="0.25" font-family="Liberation Sans, sans-serif">C</text>
<text x="511" y="626.8" font-size="13.8" text-anchor="middle" fill="#2a2a2a" stroke="#2a2a2a" stroke-width="0.25" font-family="Liberation Sans, sans-serif">D</text>
<text x="612.1" y="691.8" font-size="13.8" text-anchor="middle" fill="#2a2a2a" stroke="#2a2a2a" stroke-width="0.25" font-family="Liberation Sans, sans-serif">E</text>
<line x1="151.8" y1="555.2" x2="171" y2="544.6" stroke="#555" stroke-width="2.7" />
<line x1="152.3" y1="554.9" x2="170.5" y2="544.9" stroke="#aaa" stroke-width="0.7" />
<path d="M172 549 L181.8 562.2 L188.5 562.2 L184.5 545 Z" fill="#fff" stroke="#555" stroke-width="1"/>
<line x1="184.3" y1="548.5" x2="188.4" y2="561.5" stroke="#555" stroke-width="1.8" />
<rect x="-7.05" y="-3.1" width="14.1" height="6.2" transform="translate(176.7 544) rotate(-39.7)" fill="#fff" stroke="#555" stroke-width="1.1"/>
<rect x="187.4" y="543.1" width="7.8" height="3.5" stroke="#555" stroke-width="1.1" fill="#fff" />
<path d="M187.6 546.6 L195.2 546.6 L195 551.5 L193.2 556.5 L190.4 561 L188.6 561.5 Z" fill="#fff" stroke="#555" stroke-width="1"/>
<line x1="190" y1="549.7" x2="195.1" y2="549.7" stroke="#333" stroke-width="1.2" />
<line x1="189.6" y1="553.6" x2="194.3" y2="553.6" stroke="#333" stroke-width="1.2" />
<line x1="189.5" y1="557.4" x2="192.5" y2="557.4" stroke="#555" stroke-width="1" />
<path d="M181.8 564.6 L192.7 564.6 L192.1 562 L183 562 Z" fill="#333" stroke="#222" stroke-width="0.8"/>
<line x1="180" y1="570.7" x2="194.5" y2="570.7" stroke="#333" stroke-width="1.6" />
<rect x="182.4" y="576" width="2.2" height="14" stroke="#777" stroke-width="0.8" fill="#e0e0e0" />
<rect x="182.4" y="576" width="2.2" height="1.6" stroke="#555" stroke-width="0.6" fill="#555" />
<rect x="182.4" y="588.4" width="2.2" height="1.6" stroke="#444" stroke-width="0.6" fill="#444" />
<rect x="181.5" y="581.3" width="4" height="4.2" rx="1.2" fill="#555" stroke="#333" stroke-width="0.7"/>
<rect x="182.7" y="582.5" width="1.6" height="1.8" stroke="#ccc" stroke-width="0.4" fill="#ccc" />
<rect x="181.7" y="594.8" width="3.6" height="19.7" stroke="#666" stroke-width="0.9" fill="#fff" />
<rect x="181.7" y="594.8" width="3.6" height="2.7" stroke="#444" stroke-width="0.9" fill="#888" />
<line x1="181.7" y1="601" x2="185.3" y2="601" stroke="#333" stroke-width="1.2" />
<line x1="181.7" y1="605.3" x2="185.3" y2="605.3" stroke="#333" stroke-width="1.4" />
<rect x="190.3" y="576" width="2.2" height="14" stroke="#777" stroke-width="0.8" fill="#e0e0e0" />
<rect x="190.3" y="576" width="2.2" height="1.6" stroke="#555" stroke-width="0.6" fill="#555" />
<rect x="190.3" y="588.4" width="2.2" height="1.6" stroke="#444" stroke-width="0.6" fill="#444" />
<rect x="189.4" y="581.3" width="4" height="4.2" rx="1.2" fill="#555" stroke="#333" stroke-width="0.7"/>
<rect x="190.6" y="582.5" width="1.6" height="1.8" stroke="#ccc" stroke-width="0.4" fill="#ccc" />
<rect x="189.6" y="594.8" width="3.6" height="19.7" stroke="#666" stroke-width="0.9" fill="#fff" />
<rect x="189.6" y="594.8" width="3.6" height="2.7" stroke="#444" stroke-width="0.9" fill="#888" />
<line x1="189.6" y1="601" x2="193.2" y2="601" stroke="#333" stroke-width="1.2" />
<line x1="189.6" y1="605.3" x2="193.2" y2="605.3" stroke="#333" stroke-width="1.4" />
<path d="M172 616.5 Q176 613.5 181 615 T191 615 T201 614.5 T205 613.5" stroke="#777" stroke-width="1" fill="none" stroke-dasharray="6 2 10 2"/>
<path d="M172 621.5 Q176 618.5 181 620 T191 620 T201 619.5 T205 618.5" stroke="#777" stroke-width="1" fill="none" stroke-dasharray="6 2 10 2"/>
<rect x="189.3" y="620.5" width="4.2" height="62.5" stroke="#666" stroke-width="0.9" fill="#fff" />
<rect x="188.2" y="683" width="6.4" height="3.7" stroke="#555" stroke-width="1" fill="#fff" />
<line x1="189.3" y1="680.5" x2="193.5" y2="680.5" stroke="#777" stroke-width="0.8" />
<path d="M183 619 Q178 633 160 637.5 Q154 638.8 145 638.8" stroke="#666" stroke-width="4.4" fill="none" stroke-linecap="butt"/>
<path d="M183 619 Q178 633 160 637.5 Q154 638.8 145 638.8" stroke="#fff" stroke-width="2.6000000000000005" fill="none" stroke-linecap="butt"/>
<rect x="141.2" y="636" width="3.4" height="5.7" stroke="#555" stroke-width="1" fill="#fff" />
<line x1="148" y1="636.6" x2="148" y2="641" stroke="#777" stroke-width="0.8" />
<line x1="151" y1="636.6" x2="151" y2="641" stroke="#777" stroke-width="0.8" />
<rect x="251.7" y="504.8" width="16.1" height="7.9" stroke="#555" stroke-width="1.1" fill="#fff" />
<line x1="258.8" y1="504.8" x2="258.8" y2="512.7" stroke="#555" stroke-width="1" />
<rect x="287" y="504.8" width="16.5" height="7.9" stroke="#555" stroke-width="1.1" fill="#fff" />
<line x1="297.3" y1="504.8" x2="297.3" y2="512.7" stroke="#555" stroke-width="1" />
<rect x="261.4" y="514.7" width="2.6" height="2.3" stroke="#666" stroke-width="0.8" fill="#fff" />
<path d="M259.7 518.2 Q259.7 517 261.2 517 L264.2 517 Q265.7 517 265.7 518.2 L265.7 527 L262.7 530.5 L259.7 527 Z" fill="#fff" stroke="#444" stroke-width="1"/>
<line x1="259.7" y1="519" x2="265.7" y2="519" stroke="#333" stroke-width="1.1" />
<line x1="259.7" y1="520.95" x2="265.7" y2="520.95" stroke="#333" stroke-width="1.1" />
<line x1="259.7" y1="522.9" x2="265.7" y2="522.9" stroke="#333" stroke-width="1.1" />
<line x1="259.7" y1="524.85" x2="265.7" y2="524.85" stroke="#333" stroke-width="1.1" />
<rect x="290.7" y="514.7" width="2.6" height="2.3" stroke="#666" stroke-width="0.8" fill="#fff" />
<path d="M289 518.2 Q289 517 290.5 517 L293.5 517 Q295 517 295 518.2 L295 527 L292 530.5 L289 527 Z" fill="#fff" stroke="#444" stroke-width="1"/>
<line x1="289" y1="519" x2="295" y2="519" stroke="#333" stroke-width="1.1" />
<line x1="289" y1="520.95" x2="295" y2="520.95" stroke="#333" stroke-width="1.1" />
<line x1="289" y1="522.9" x2="295" y2="522.9" stroke="#333" stroke-width="1.1" />
<line x1="289" y1="524.85" x2="295" y2="524.85" stroke="#333" stroke-width="1.1" />
<rect x="258.2" y="534.6" width="8.4" height="10.9" stroke="#555" stroke-width="1" fill="#fff" />
<rect x="259.3" y="545.5" width="6.2" height="3.7" stroke="#555" stroke-width="1" fill="#fff" />
<rect x="288.2" y="534.6" width="8.4" height="10.9" stroke="#555" stroke-width="1" fill="#fff" />
<rect x="289.3" y="545.5" width="6.2" height="3.7" stroke="#555" stroke-width="1" fill="#fff" />
<path d="M269 537.5 L286 537.5 Q289.2 540.5 286 543.7 L269 543.7 Q265.8 540.5 269 537.5 Z" fill="#fff" stroke="#555" stroke-width="1"/>
<path d="M272.6 532.2 L280.8 532.2 L280.8 535.5 Q279 539.8 276.7 540.5 Q274.4 539.8 272.6 535.5 Z" fill="#fff" stroke="#555" stroke-width="1"/>
<rect x="258" y="554.8" width="9" height="5.2" stroke="#444" stroke-width="1" fill="#fff" />
<line x1="261" y1="554.8" x2="261" y2="560" stroke="#444" stroke-width="0.9" />
<line x1="264" y1="554.8" x2="264" y2="560" stroke="#444" stroke-width="0.9" />
<line x1="256" y1="561.6" x2="269" y2="561.6" stroke="#222" stroke-width="2" />
<rect x="259.5" y="563" width="6" height="10" stroke="#555" stroke-width="1" fill="#fff" />
<line x1="256.5" y1="577" x2="268.5" y2="577" stroke="#333" stroke-width="1.4" />
<line x1="256.5" y1="581.5" x2="268.5" y2="581.5" stroke="#222" stroke-width="1.8" />
<line x1="259" y1="583.6" x2="266" y2="583.6" stroke="#666" stroke-width="0.9" />
<rect x="287.8" y="554.8" width="9" height="5.2" stroke="#444" stroke-width="1" fill="#fff" />
<line x1="290.8" y1="554.8" x2="290.8" y2="560" stroke="#444" stroke-width="0.9" />
<line x1="293.8" y1="554.8" x2="293.8" y2="560" stroke="#444" stroke-width="0.9" />
<line x1="285.8" y1="561.6" x2="298.8" y2="561.6" stroke="#222" stroke-width="2" />
<rect x="289.3" y="563" width="6" height="10" stroke="#555" stroke-width="1" fill="#fff" />
<line x1="286.3" y1="577" x2="298.3" y2="577" stroke="#333" stroke-width="1.4" />
<line x1="286.3" y1="581.5" x2="298.3" y2="581.5" stroke="#222" stroke-width="1.8" />
<line x1="288.8" y1="583.6" x2="295.8" y2="583.6" stroke="#666" stroke-width="0.9" />
<g transform="translate(372.6 533.3) rotate(-152) scale(1.0)"><rect x="-6.7" y="-5.5" width="2.6" height="11" fill="#fff" stroke="#999" stroke-width="0.9"/><path d="M-4.3 -5.9 L2.4 -5.9 Q6.9 -5.7 6.9 0 Q6.9 5.7 2.4 5.9 L-4.3 5.9 Z" fill="#1a1a1a"/><ellipse cx="1.0" cy="-2.95" rx="4.1" ry="1.55" fill="#fff"/><ellipse cx="1.0" cy="2.95" rx="4.1" ry="1.55" fill="#fff"/><path d="M-4.3 -4.6 L-2.6 -4.6 L-2.6 4.6 L-4.3 4.6 Z" fill="#fff" stroke="#888" stroke-width="0.6"/></g>
<g transform="translate(435.3 533.3) rotate(-28) scale(1.0)"><rect x="-6.7" y="-5.5" width="2.6" height="11" fill="#fff" stroke="#999" stroke-width="0.9"/><path d="M-4.3 -5.9 L2.4 -5.9 Q6.9 -5.7 6.9 0 Q6.9 5.7 2.4 5.9 L-4.3 5.9 Z" fill="#1a1a1a"/><ellipse cx="1.0" cy="-2.95" rx="4.1" ry="1.55" fill="#fff"/><ellipse cx="1.0" cy="2.95" rx="4.1" ry="1.55" fill="#fff"/><path d="M-4.3 -4.6 L-2.6 -4.6 L-2.6 4.6 L-4.3 4.6 Z" fill="#fff" stroke="#888" stroke-width="0.6"/></g>
<g transform="translate(383.6 544.3) rotate(-135) scale(0.9)"><path d="M-8.2 0 L-5.6 -3.2 L4.8 -3.2 L4.8 3.2 L-5.6 3.2 Z" fill="#fff" stroke="#444" stroke-width="0.9"/><rect x="-4.6" y="-3.2" width="1.6" height="6.4" fill="#222"/><rect x="-1.6" y="-3.2" width="1.6" height="6.4" fill="#222"/><rect x="1.4" y="-3.2" width="1.6" height="6.4" fill="#222"/><rect x="4.8" y="-1.3" width="3.4" height="2.6" fill="#fff" stroke="#777" stroke-width="0.8"/></g>
<g transform="translate(424.2 544.3) rotate(-45) scale(0.9)"><path d="M-8.2 0 L-5.6 -3.2 L4.8 -3.2 L4.8 3.2 L-5.6 3.2 Z" fill="#fff" stroke="#444" stroke-width="0.9"/><rect x="-4.6" y="-3.2" width="1.6" height="6.4" fill="#222"/><rect x="-1.6" y="-3.2" width="1.6" height="6.4" fill="#222"/><rect x="1.4" y="-3.2" width="1.6" height="6.4" fill="#222"/><rect x="4.8" y="-1.3" width="3.4" height="2.6" fill="#fff" stroke="#777" stroke-width="0.8"/></g>
<g transform="translate(394.3 556) rotate(-42)"><rect x="-3.3" y="-5" width="6.6" height="10" fill="#fff" stroke="#444" stroke-width="1"/></g>
<g transform="translate(413.4 556) rotate(42)"><rect x="-3.3" y="-5" width="6.6" height="10" fill="#fff" stroke="#444" stroke-width="1"/></g>
<path d="M398.5 552.4 L409.3 552.4 L411 562.5 L396.8 562.5 Z" fill="#fff" stroke="#444" stroke-width="1"/>
<line x1="401.5" y1="552.4" x2="400.5" y2="562" stroke="#666" stroke-width="0.8" />
<line x1="406.5" y1="552.4" x2="407.2" y2="562" stroke="#666" stroke-width="0.8" />
<rect x="399.6" y="546" width="8.6" height="6.4" stroke="#444" stroke-width="1" fill="#fff" />
<rect x="396" y="562.6" width="15.4" height="2" stroke="#222" stroke-width="0.8" fill="#222" />
<line x1="396" y1="571.8" x2="411" y2="571.8" stroke="#333" stroke-width="1.5" />
<line x1="396" y1="575.4" x2="411" y2="575.4" stroke="#333" stroke-width="1.5" />
<rect x="398.8" y="582.6" width="2.2" height="14.4" stroke="#777" stroke-width="0.8" fill="#e0e0e0" />
<rect x="398.8" y="582.6" width="2.2" height="1.6" stroke="#555" stroke-width="0.6" fill="#555" />
<rect x="398.8" y="595.4" width="2.2" height="1.6" stroke="#444" stroke-width="0.6" fill="#444" />
<rect x="397.9" y="588.4" width="4" height="4.2" rx="1.2" fill="#555" stroke="#333" stroke-width="0.7"/>
<rect x="399.1" y="589.6" width="1.6" height="1.8" stroke="#ccc" stroke-width="0.4" fill="#ccc" />
<rect x="406.7" y="582.6" width="2.2" height="14.4" stroke="#777" stroke-width="0.8" fill="#e0e0e0" />
<rect x="406.7" y="582.6" width="2.2" height="1.6" stroke="#555" stroke-width="0.6" fill="#555" />
<rect x="406.7" y="595.4" width="2.2" height="1.6" stroke="#444" stroke-width="0.6" fill="#444" />
<rect x="405.8" y="588.4" width="4" height="4.2" rx="1.2" fill="#555" stroke="#333" stroke-width="0.7"/>
<rect x="407" y="589.6" width="1.6" height="1.8" stroke="#ccc" stroke-width="0.4" fill="#ccc" />
<rect x="399.1" y="607" width="3.4" height="26.5" stroke="#666" stroke-width="0.9" fill="#fff" />
<rect x="399.1" y="607" width="3.4" height="2.8" stroke="#333" stroke-width="0.9" fill="#666" />
<line x1="399.1" y1="612.5" x2="402.5" y2="612.5" stroke="#222" stroke-width="1.3" />
<line x1="399.1" y1="616.5" x2="402.5" y2="616.5" stroke="#555" stroke-width="1" />
<rect x="404.7" y="607" width="3.4" height="26.5" stroke="#666" stroke-width="0.9" fill="#fff" />
<rect x="404.7" y="607" width="3.4" height="2.8" stroke="#333" stroke-width="0.9" fill="#666" />
<line x1="404.7" y1="612.5" x2="408.1" y2="612.5" stroke="#222" stroke-width="1.3" />
<line x1="404.7" y1="616.5" x2="408.1" y2="616.5" stroke="#555" stroke-width="1" />
<path d="M389 634.5 Q393 631.5 398 633 T408 632.5 T418 631.5" stroke="#777" stroke-width="1" fill="none" stroke-dasharray="7 2 12 2"/>
<path d="M389 639 Q393 636 398 637.5 T408 637 T418 636" stroke="#777" stroke-width="1" fill="none" stroke-dasharray="7 2 12 2"/>
<rect x="399.1" y="638.5" width="3.4" height="57.5" stroke="#666" stroke-width="0.9" fill="#fff" />
<rect x="397.6" y="696" width="6.4" height="3.8" stroke="#555" stroke-width="1" fill="#fff" />
<line x1="399.1" y1="693" x2="402.5" y2="693" stroke="#777" stroke-width="0.8" />
<path d="M408 638 Q417 650 433 651.5 L444.5 651.6" stroke="#666" stroke-width="4.4" fill="none" stroke-linecap="butt"/>
<path d="M408 638 Q417 650 433 651.5 L444.5 651.6" stroke="#fff" stroke-width="2.6000000000000005" fill="none" stroke-linecap="butt"/>
<rect x="444.5" y="648.7" width="4.4" height="5.9" stroke="#555" stroke-width="1" fill="#fff" />
<line x1="437.5" y1="649.5" x2="437.5" y2="653.7" stroke="#777" stroke-width="0.8" />
<line x1="440.8" y1="649.5" x2="440.8" y2="653.7" stroke="#777" stroke-width="0.8" />
<rect x="487.6" y="541.6" width="6.4" height="20.4" stroke="#555" stroke-width="1" fill="#fff" />
<line x1="487.6" y1="544.2" x2="494" y2="544.2" stroke="#555" stroke-width="1" />
<path d="M494 546 L499 546 L499 554 L494 554 Q491 550 494 546 Z" fill="#fff" stroke="#555" stroke-width="1"/>
<ellipse cx="491" cy="562.5" rx="6.2" ry="1.3" fill="#222"/>
<rect x="488" y="563.5" width="5.6" height="11.5" stroke="#555" stroke-width="1" fill="#fff" />
<line x1="485" y1="582" x2="497" y2="582" stroke="#333" stroke-width="1.3" />
<line x1="485" y1="588" x2="497" y2="588" stroke="#222" stroke-width="1.9" />
<line x1="487.5" y1="589.8" x2="494.5" y2="589.8" stroke="#666" stroke-width="0.9" />
<g transform="translate(511.3 550.4) rotate(0) scale(1.0)"><path d="M-8.2 0 L-5.6 -3.2 L4.8 -3.2 L4.8 3.2 L-5.6 3.2 Z" fill="#fff" stroke="#444" stroke-width="0.9"/><rect x="-4.6" y="-3.2" width="1.6" height="6.4" fill="#222"/><rect x="-1.6" y="-3.2" width="1.6" height="6.4" fill="#222"/><rect x="1.4" y="-3.2" width="1.6" height="6.4" fill="#222"/><rect x="4.8" y="-1.3" width="3.4" height="2.6" fill="#fff" stroke="#777" stroke-width="0.8"/></g>
<g transform="translate(528.9 550.5) rotate(0) scale(1.0)"><rect x="-6.7" y="-5.5" width="2.6" height="11" fill="#fff" stroke="#999" stroke-width="0.9"/><path d="M-4.3 -5.9 L2.4 -5.9 Q6.9 -5.7 6.9 0 Q6.9 5.7 2.4 5.9 L-4.3 5.9 Z" fill="#1a1a1a"/><ellipse cx="1.0" cy="-2.95" rx="4.1" ry="1.55" fill="#fff"/><ellipse cx="1.0" cy="2.95" rx="4.1" ry="1.55" fill="#fff"/><path d="M-4.3 -4.6 L-2.6 -4.6 L-2.6 4.6 L-4.3 4.6 Z" fill="#fff" stroke="#888" stroke-width="0.6"/></g>
<g transform="translate(540.7 362) rotate(0) scale(0.95)"><path d="M-8.2 0 L-5.6 -3.2 L4.8 -3.2 L4.8 3.2 L-5.6 3.2 Z" fill="#fff" stroke="#444" stroke-width="0.9"/><rect x="-4.6" y="-3.2" width="1.6" height="6.4" fill="#222"/><rect x="-1.6" y="-3.2" width="1.6" height="6.4" fill="#222"/><rect x="1.4" y="-3.2" width="1.6" height="6.4" fill="#222"/><rect x="4.8" y="-1.3" width="3.4" height="2.6" fill="#fff" stroke="#777" stroke-width="0.8"/></g>
<g transform="translate(561.7 361.5) rotate(0) scale(0.92)"><rect x="-6.7" y="-5.5" width="2.6" height="11" fill="#fff" stroke="#999" stroke-width="0.9"/><path d="M-4.3 -5.9 L2.4 -5.9 Q6.9 -5.7 6.9 0 Q6.9 5.7 2.4 5.9 L-4.3 5.9 Z" fill="#1a1a1a"/><ellipse cx="1.0" cy="-2.95" rx="4.1" ry="1.55" fill="#fff"/><ellipse cx="1.0" cy="2.95" rx="4.1" ry="1.55" fill="#fff"/><path d="M-4.3 -4.6 L-2.6 -4.6 L-2.6 4.6 L-4.3 4.6 Z" fill="#fff" stroke="#888" stroke-width="0.6"/></g>
<path d="M605 517.5 Q612 518.4 618.6 518.2 Q625 518.4 632 517.5 L632 524.8 Q625 523.8 618.6 524 Q612 523.8 605 524.8 Z" fill="#fff" stroke="#555" stroke-width="1"/>
<line x1="618.6" y1="517.7" x2="618.6" y2="524.4" stroke="#555" stroke-width="1" />
<circle cx="598" cy="521.1" r="9.4" fill="#fff" stroke="#444" stroke-width="1.1"/>
<circle cx="598" cy="521.1" r="7.8" fill="#fff" stroke="#666" stroke-width="0.9"/>
<polygon points="605,521.1 601.5,527.16 594.5,527.16 591,521.1 594.5,515.04 601.5,515.04" fill="#2a2a2a" stroke="#222" stroke-width="0.8"/>
<circle cx="598" cy="521.1" r="4.8" fill="#fff" stroke="#333" stroke-width="0.8"/>
<circle cx="639.3" cy="521.1" r="9.4" fill="#fff" stroke="#444" stroke-width="1.1"/>
<circle cx="639.3" cy="521.1" r="7.8" fill="#fff" stroke="#666" stroke-width="0.9"/>
<polygon points="646.3,521.1 642.8,527.16 635.8,527.16 632.3,521.1 635.8,515.04 642.8,515.04" fill="#2a2a2a" stroke="#222" stroke-width="0.8"/>
<circle cx="639.3" cy="521.1" r="4.8" fill="#fff" stroke="#333" stroke-width="0.8"/>
<path d="M614.6 512.3 L622.6 512.3 L622.6 515 Q621 518 618.6 518.5 Q616.2 518 614.6 515 Z" fill="#fff" stroke="#555" stroke-width="1"/>
<rect x="595.4" y="572" width="5.6" height="5.5" stroke="#555" stroke-width="1" fill="#fff" />
<rect x="594.5" y="577.5" width="7.4" height="8.3" stroke="#555" stroke-width="1" fill="#fff" />
<line x1="595.4" y1="574.5" x2="601" y2="574.5" stroke="#777" stroke-width="0.8" />
<rect x="636.5" y="572" width="5.6" height="5.5" stroke="#555" stroke-width="1" fill="#fff" />
<rect x="635.6" y="577.5" width="7.4" height="8.3" stroke="#555" stroke-width="1" fill="#fff" />
<line x1="636.5" y1="574.5" x2="642.1" y2="574.5" stroke="#777" stroke-width="0.8" />
<path d="M588.4 592.6 L609 592.6 L607.5 597.2 Q606.5 598.6 604.5 598.6 L592.9 598.6 Q590.9 598.6 589.9 597.2 Z" fill="#fff" stroke="#555" stroke-width="1"/>
<line x1="589.4" y1="594.5" x2="608" y2="594.5" stroke="#888" stroke-width="0.8" />
<line x1="590.9" y1="593" x2="590.9" y2="595.5" stroke="#333" stroke-width="1" />
<path d="M629 592.6 L649.4 592.6 L647.9 597.2 Q646.9 598.6 644.9 598.6 L633.5 598.6 Q631.5 598.6 630.5 597.2 Z" fill="#fff" stroke="#555" stroke-width="1"/>
<line x1="630" y1="594.5" x2="648.4" y2="594.5" stroke="#888" stroke-width="0.8" />
<line x1="631.5" y1="593" x2="631.5" y2="595.5" stroke="#333" stroke-width="1" />
<path d="M603.2 609.5 L614 611 L614 618.5 L603.2 619.5 Z" fill="#fff" stroke="#555" stroke-width="1"/>
<path d="M635.2 609.5 L623.2 611 L623.2 618.5 L635.2 619.5 Z" fill="#fff" stroke="#555" stroke-width="1"/>
<rect x="593.9" y="606.5" width="9.4" height="13.8" stroke="#555" stroke-width="1" fill="#fff" />
<line x1="593.9" y1="611" x2="603.3" y2="611" stroke="#555" stroke-width="1" />
<line x1="593.9" y1="615.5" x2="603.3" y2="615.5" stroke="#555" stroke-width="1" />
<line x1="598.6" y1="606.5" x2="598.6" y2="611" stroke="#555" stroke-width="0.9" />
<rect x="635.1" y="606.5" width="9.2" height="13.8" stroke="#555" stroke-width="1" fill="#fff" />
<line x1="635.1" y1="611" x2="644.3" y2="611" stroke="#555" stroke-width="1" />
<line x1="635.1" y1="615.5" x2="644.3" y2="615.5" stroke="#555" stroke-width="1" />
<line x1="639.7" y1="606.5" x2="639.7" y2="611" stroke="#555" stroke-width="0.9" />
<circle cx="618.6" cy="614.8" r="4.3" fill="#fff" stroke="#111" stroke-width="1.8"/>
<rect x="616.6" y="612.8" width="4" height="4" stroke="#333" stroke-width="0.9" fill="#fff" />
<line x1="618.6" y1="612.8" x2="618.6" y2="616.8" stroke="#333" stroke-width="0.8" />
<line x1="616.6" y1="614.8" x2="620.6" y2="614.8" stroke="#333" stroke-width="0.8" />
<path d="M598.2 624.6 L600.8 627.6 L601 632.5 L600.4 637.5 L596 637.5 L595.4 632.5 L595.6 627.6 Z" fill="#fff" stroke="#444" stroke-width="1"/>
<line x1="595.6" y1="628.3" x2="600.8" y2="628.3" stroke="#222" stroke-width="1.3" />
<line x1="595.5" y1="630.9" x2="600.9" y2="630.9" stroke="#555" stroke-width="1" />
<line x1="594.4" y1="633.4" x2="602" y2="633.4" stroke="#111" stroke-width="1.6" />
<line x1="595.8" y1="635.6" x2="600.6" y2="635.6" stroke="#666" stroke-width="0.9" />
<rect x="596.9" y="637.5" width="2.6" height="4.3" stroke="#666" stroke-width="0.9" fill="#fff" />
<path d="M639.5 624.6 L642.1 627.6 L642.3 632.5 L641.7 637.5 L637.3 637.5 L636.7 632.5 L636.9 627.6 Z" fill="#fff" stroke="#444" stroke-width="1"/>
<line x1="636.9" y1="628.3" x2="642.1" y2="628.3" stroke="#222" stroke-width="1.3" />
<line x1="636.8" y1="630.9" x2="642.2" y2="630.9" stroke="#555" stroke-width="1" />
<line x1="635.7" y1="633.4" x2="643.3" y2="633.4" stroke="#111" stroke-width="1.6" />
<line x1="637.1" y1="635.6" x2="641.9" y2="635.6" stroke="#666" stroke-width="0.9" />
<rect x="638.2" y="637.5" width="2.6" height="4.3" stroke="#666" stroke-width="0.9" fill="#fff" />
<path d="M593.1 645.2 L604.3 645.2 Q606.3 651 604.5 656.8 Q598.7 658.6 592.9 656.8 Q591.1 651 593.1 645.2 Z" fill="#fff" stroke="#222" stroke-width="1.3"/>
<path d="M592.9 656.8 Q598.7 653.6 604.5 656.8 Q598.7 658.6 592.9 656.8 Z" fill="#111" stroke="#111" stroke-width="1"/>
<path d="M598.7 647 Q602.1 651.5 601.1 655.4 Q598.7 657 596.3 655.4 Q595.3 651.5 598.7 647 Z" fill="#fff" stroke="#222" stroke-width="1.4"/>
<path d="M593.9 647.5 Q593.5 652 595.7 656" fill="none" stroke="#333" stroke-width="1.2"/>
<path d="M603.5 647.5 Q603.9 652 601.7 656" fill="none" stroke="#333" stroke-width="1.2"/>
<path d="M633.7 645.2 L644.9 645.2 Q646.9 651 645.1 656.8 Q639.3 658.6 633.5 656.8 Q631.7 651 633.7 645.2 Z" fill="#fff" stroke="#222" stroke-width="1.3"/>
<path d="M633.5 656.8 Q639.3 653.6 645.1 656.8 Q639.3 658.6 633.5 656.8 Z" fill="#111" stroke="#111" stroke-width="1"/>
<path d="M639.3 647 Q642.7 651.5 641.7 655.4 Q639.3 657 636.9 655.4 Q635.9 651.5 639.3 647 Z" fill="#fff" stroke="#222" stroke-width="1.4"/>
<path d="M634.5 647.5 Q634.1 652 636.3 656" fill="none" stroke="#333" stroke-width="1.2"/>
<path d="M644.1 647.5 Q644.5 652 642.3 656" fill="none" stroke="#333" stroke-width="1.2"/>
</svg></body></html>
